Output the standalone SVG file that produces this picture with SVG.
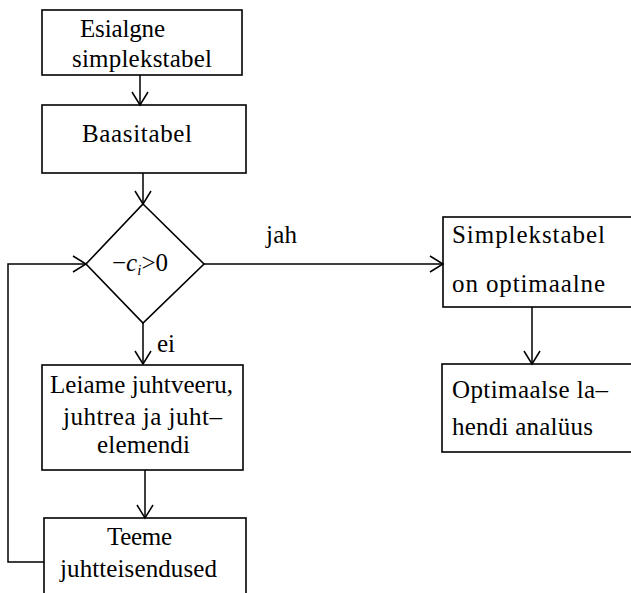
<svg xmlns="http://www.w3.org/2000/svg" width="631" height="593" viewBox="0 0 631 593">
<style>
.box{fill:none;stroke:#000;stroke-width:1.6}
.ln{fill:none;stroke:#000;stroke-width:1.5}
text{font-family:"Liberation Serif","Times New Roman",serif;font-size:25px;fill:#000}
</style>
<defs>
<marker id="ah" markerUnits="userSpaceOnUse" markerWidth="20" markerHeight="20" viewBox="-14 -10 16 20" refX="0" refY="0" orient="auto">
<path d="M-13,-8 L0,0 L-13,8" fill="none" stroke="#000" stroke-width="1.5"/>
</marker>
</defs>
<rect width="631" height="593" fill="#fff"/>
<g id="connectors">
<line class="ln" x1="140" y1="75" x2="140" y2="105" marker-end="url(#ah)"/>
<line class="ln" x1="143" y1="173" x2="143" y2="204" marker-end="url(#ah)"/>
<line class="ln" x1="204" y1="264" x2="443" y2="264" marker-end="url(#ah)"/>
<line class="ln" x1="143" y1="323" x2="143" y2="364" marker-end="url(#ah)"/>
<line class="ln" x1="145" y1="470" x2="145" y2="518" marker-end="url(#ah)"/>
<line class="ln" x1="532" y1="307" x2="532" y2="364" marker-end="url(#ah)"/>
<path class="ln" d="M44,562 H8 V264 H86" marker-end="url(#ah)"/>
<text x="266" y="243" textLength="31" lengthAdjust="spacing">jah</text>
<text x="157" y="352" textLength="18" lengthAdjust="spacing">ei</text>
</g>
<g id="n1">
<rect class="box" x="42" y="10" width="200" height="65"/>
<text x="80" y="37" textLength="85" lengthAdjust="spacing">Esialgne</text>
<text x="72" y="67" textLength="140" lengthAdjust="spacing">simplekstabel</text>
</g>
<g id="n2">
<rect class="box" x="42" y="105" width="204" height="68"/>
<text x="82" y="142" textLength="110" lengthAdjust="spacing">Baasitabel</text>
</g>
<g id="n3">
<polygon class="box" points="143,204 204,264 143,323 86,264"/>
<text x="112" y="271">−<tspan font-style="italic">c</tspan><tspan font-style="italic" font-size="15" dy="4">i</tspan><tspan dy="-4">&gt;0</tspan></text>
</g>
<g id="n4">
<rect class="box" x="42" y="365" width="201" height="105"/>
<text x="50" y="393" textLength="183" lengthAdjust="spacing">Leiame juhtveeru,</text>
<text x="63" y="425" textLength="159" lengthAdjust="spacing">juhtrea ja juht–</text>
<text x="97" y="453" textLength="93" lengthAdjust="spacing">elemendi</text>
</g>
<g id="n5">
<rect class="box" x="44" y="518" width="202" height="90"/>
<text x="107" y="545" textLength="65" lengthAdjust="spacing">Teeme</text>
<text x="60" y="577" textLength="157" lengthAdjust="spacing">juhtteisendused</text>
</g>
<g id="n6">
<rect class="box" x="443" y="217" width="200" height="90"/>
<text x="452" y="243" textLength="153" lengthAdjust="spacing">Simplekstabel</text>
<text x="452" y="292" textLength="153" lengthAdjust="spacing">on optimaalne</text>
</g>
<g id="n7">
<rect class="box" x="442" y="364" width="200" height="88"/>
<text x="452" y="398" textLength="156" lengthAdjust="spacing">Optimaalse la–</text>
<text x="452" y="435" textLength="141" lengthAdjust="spacing">hendi analüus</text>
</g>
</svg>
